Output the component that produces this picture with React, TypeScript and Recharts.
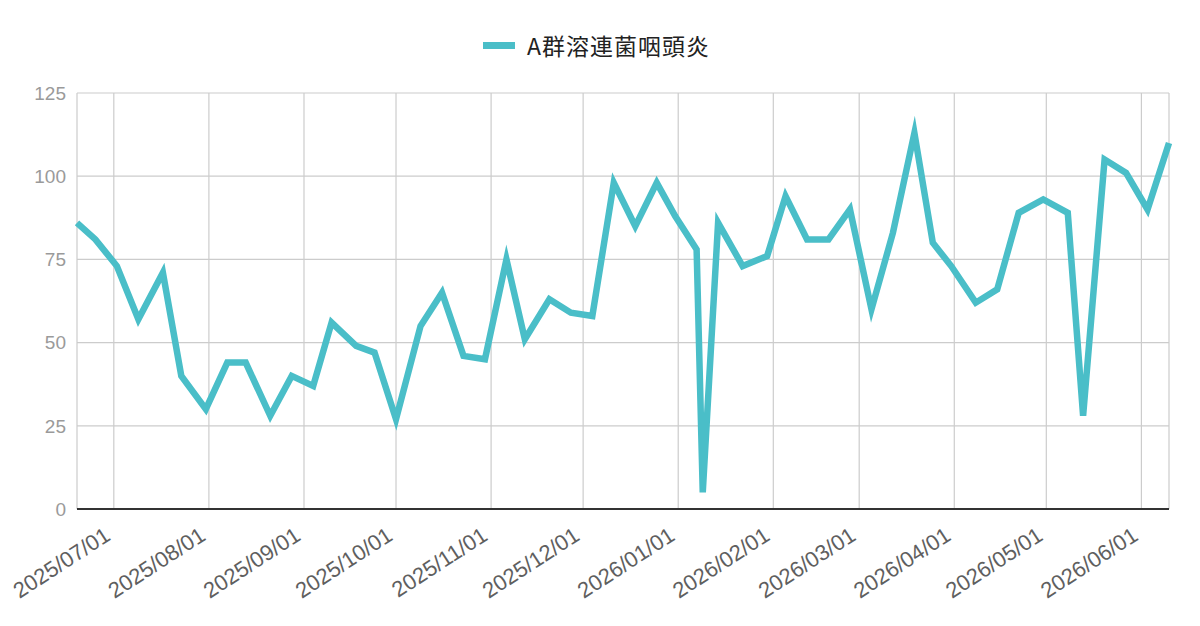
import { CartesianGrid, Line, LineChart, XAxis, YAxis } from 'recharts'

const dates = [
	'2025-06-19', '2025-06-25', '2025-07-02', '2025-07-09', '2025-07-17', '2025-07-23', '2025-07-31',
	'2025-08-07', '2025-08-13', '2025-08-21', '2025-08-28', '2025-09-04', '2025-09-10', '2025-09-18',
	'2025-09-24', '2025-10-01', '2025-10-09', '2025-10-16', '2025-10-23', '2025-10-30', '2025-11-06',
	'2025-11-12', '2025-11-20', '2025-11-27', '2025-12-04', '2025-12-11', '2025-12-18', '2025-12-25',
	'2025-12-31', '2026-01-07', '2026-01-09', '2026-01-14', '2026-01-22', '2026-01-30', '2026-02-05',
	'2026-02-12', '2026-02-19', '2026-02-26', '2026-03-05', '2026-03-12', '2026-03-19', '2026-03-25',
	'2026-03-31', '2026-04-08', '2026-04-15', '2026-04-22', '2026-04-30', '2026-05-08', '2026-05-13',
	'2026-05-20', '2026-05-27', '2026-06-03', '2026-06-10',
]

const cases = [
	86, 81, 73, 57, 71, 40, 30, 44, 44, 28,
	40, 37, 56, 49, 47, 27, 55, 65, 46, 45,
	75, 51, 63, 59, 58, 98, 85, 98, 88, 78,
	5, 86, 73, 76, 94, 81, 81, 90, 60, 83,
	113, 80, 73, 62, 66, 89, 93, 89, 28, 105,
	101, 90, 110,
]

const monthLabels = [
	'2025/07/01', '2025/08/01', '2025/09/01', '2025/10/01', '2025/11/01', '2025/12/01',
	'2026/01/01', '2026/02/01', '2026/03/01', '2026/04/01', '2026/05/01', '2026/06/01',
]

const yTicks = [0, 25, 50, 75, 100, 125]

const seriesName = 'A群溶連菌咽頭炎'

const toTime = (s: string) => Date.parse(s.replace(/\//g, '-') + 'T00:00:00Z')

const data = dates.map((d, i) => ({ t: toTime(d), v: cases[i] }))
const monthTicks = monthLabels.map(toTime)

const fmt = (t: number) => {
	const d = new Date(t)
	const mm = String(d.getUTCMonth() + 1).padStart(2, '0')
	const dd = String(d.getUTCDate()).padStart(2, '0')
	return `${d.getUTCFullYear()}/${mm}/${dd}`
}

const COLOR = '#4abec8'

const DateTick = (props: any) => {
	const { x, y, payload } = props
	return (
		<g transform={`translate(${x - 2},${y + 22})`}>
			<text
				x={0}
				y={0}
				textAnchor="end"
				transform="rotate(-33)"
				fill="#5f5f5f"
				fontSize={22}
				fontFamily="'Liberation Sans', Arial, sans-serif"
			>
				{fmt(payload.value)}
			</text>
		</g>
	)
}

export default function App() {
	return (
		<div style={{ position: 'absolute', left: 0, top: 0, width: 1200, height: 626, background: '#fff' }}>
			<div
				style={{
					position: 'absolute',
					left: 483,
					top: 30,
					height: 30,
					display: 'flex',
					alignItems: 'center',
				}}
			>
				<div style={{ width: 32, height: 7, background: COLOR }} />
				<span
					style={{
						marginLeft: 12,
						fontSize: 23,
						letterSpacing: 1,
						lineHeight: 1,
						color: '#222',
						fontFamily: "'Noto Sans CJK JP', sans-serif",
					}}
				>
					{seriesName}
				</span>
			</div>
			<LineChart width={1200} height={626} data={data} margin={{ top: 93, right: 31, bottom: 0, left: 0 }}>
				<CartesianGrid stroke="#cccccc" strokeWidth={1.2} />
				<XAxis
					dataKey="t"
					type="number"
					scale="time"
					domain={['dataMin', 'dataMax']}
					ticks={monthTicks}
					tick={<DateTick />}
					tickLine={false}
					axisLine={{ stroke: '#333', strokeWidth: 2 }}
					height={117}
					interval={0}
				/>
				<YAxis
					domain={[0, 125]}
					ticks={yTicks}
					axisLine={false}
					tickLine={false}
					width={77}
					tickMargin={5}
					tick={{ fill: '#9a9a9a', fontSize: 19, fontFamily: "'Liberation Sans', Arial, sans-serif" }}
				/>
				<Line
					type="linear"
					dataKey="v"
					stroke={COLOR}
					strokeWidth={6.5}
					strokeMiterlimit={10}
					dot={false}
					activeDot={false}
					isAnimationActive={false}
				/>
			</LineChart>
		</div>
	)
}
